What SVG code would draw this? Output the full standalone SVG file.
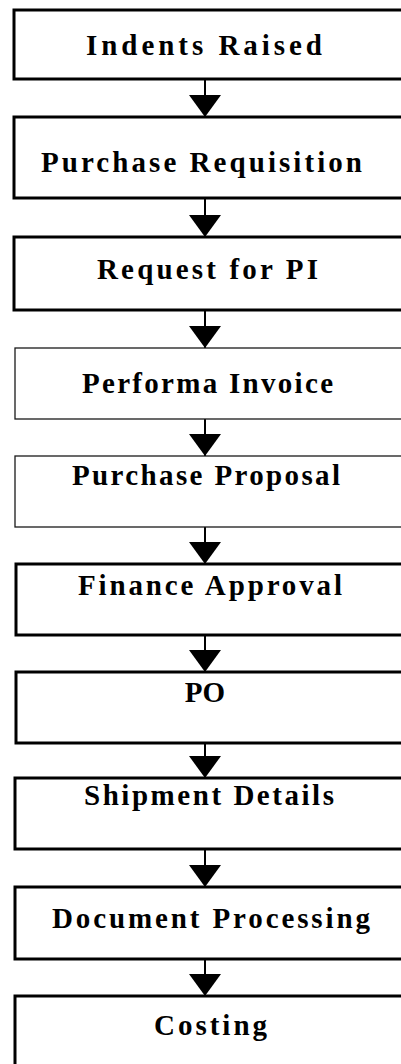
<svg xmlns="http://www.w3.org/2000/svg" width="401" height="1064" viewBox="0 0 401 1064">
  <style>
    .box { fill: #ffffff; stroke: #000000; stroke-width: 3; }
    .box-thin { fill: #ffffff; stroke: #1a1a1a; stroke-width: 1.3; }
    .label { font-family: "Liberation Serif", "Times New Roman", serif; font-weight: bold; font-size: 29px; fill: #000000; }
    .link { stroke: #000000; stroke-width: 2; fill: none; marker-end: url(#head); }
  </style>
  <defs>
    <marker id="head" markerUnits="userSpaceOnUse" viewBox="0 0 22 32" refX="22" refY="16" markerWidth="22" markerHeight="32" orient="auto">
      <path d="M0,0 L22,16 L0,32 Z" fill="#000000"/>
    </marker>
  </defs>
  <rect width="401" height="1064" fill="#ffffff"/>

  <g id="connectors">
    <line class="link" x1="205" y1="79" x2="205" y2="117"/>
    <line class="link" x1="205" y1="198" x2="205" y2="237"/>
    <line class="link" x1="205" y1="310" x2="205" y2="348"/>
    <line class="link" x1="205" y1="419" x2="205" y2="456"/>
    <line class="link" x1="205" y1="527" x2="205" y2="564"/>
    <line class="link" x1="205" y1="635" x2="205" y2="672"/>
    <line class="link" x1="205" y1="743" x2="205" y2="778"/>
    <line class="link" x1="205" y1="849" x2="205" y2="887"/>
    <line class="link" x1="205" y1="959" x2="205" y2="996"/>
  </g>

  <g id="indents-raised">
    <rect class="box" x="14" y="10" width="400" height="69"/>
    <text class="label" x="86" y="55" textLength="236" lengthAdjust="spacing">Indents Raised</text>
  </g>
  <g id="purchase-requisition">
    <rect class="box" x="14" y="117" width="400" height="81"/>
    <text class="label" x="41" y="172" textLength="321" lengthAdjust="spacing">Purchase Requisition</text>
  </g>
  <g id="request-for-pi">
    <rect class="box" x="14" y="237" width="400" height="73"/>
    <text class="label" x="97" y="279" textLength="221" lengthAdjust="spacing">Request for PI</text>
  </g>
  <g id="performa-invoice">
    <rect class="box-thin" x="15" y="348" width="400" height="71"/>
    <text class="label" x="82" y="393" textLength="251" lengthAdjust="spacing">Performa Invoice</text>
  </g>
  <g id="purchase-proposal">
    <rect class="box-thin" x="15" y="456" width="400" height="71"/>
    <text class="label" x="72" y="485" textLength="268" lengthAdjust="spacing">Purchase Proposal</text>
  </g>
  <g id="finance-approval">
    <rect class="box" x="16" y="564" width="400" height="71"/>
    <text class="label" x="78" y="595" textLength="264" lengthAdjust="spacing">Finance Approval</text>
  </g>
  <g id="po">
    <rect class="box" x="16" y="672" width="400" height="71"/>
    <text class="label" x="205" y="702" text-anchor="middle">PO</text>
  </g>
  <g id="shipment-details">
    <rect class="box" x="15" y="778" width="400" height="71"/>
    <text class="label" x="84" y="805" textLength="250" lengthAdjust="spacing">Shipment Details</text>
  </g>
  <g id="document-processing">
    <rect class="box" x="15" y="887" width="400" height="72"/>
    <text class="label" x="52" y="928" textLength="318" lengthAdjust="spacing">Document Processing</text>
  </g>
  <g id="costing">
    <rect class="box" x="15" y="996" width="400" height="80"/>
    <text class="label" x="154" y="1035" textLength="113" lengthAdjust="spacing">Costing</text>
  </g>
</svg>
